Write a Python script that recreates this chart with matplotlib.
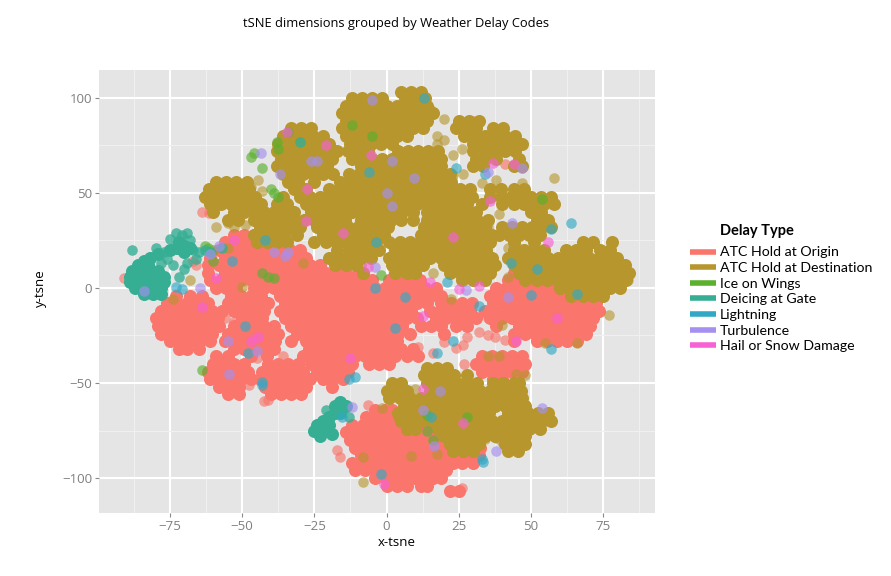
import matplotlib
matplotlib.use("Agg")
import matplotlib.pyplot as plt
from matplotlib.lines import Line2D

TITLE = "tSNE dimensions grouped by Weather Delay Codes"
LEGEND_TITLE = "Delay Type"
CATEGORIES = ["ATC Hold at Origin", "ATC Hold at Destination", "Ice on Wings", "Deicing at Gate",
              "Lightning", "Turbulence", "Hail or Snow Damage"]
COLORS = ["#FA756C", "#B6962D", "#5BB02F", "#35AE94", "#31A9C6", "#A590F0", "#F761D5"]
X_TICKS = [-75, -50, -25, 0, 25, 50, 75]
Y_TICKS = [-100, -50, 0, 50, 100]
X_MINOR = [-87.5, -62.5, -37.5, -12.5, 12.5, 37.5, 62.5, 87.5]
Y_MINOR = [-75, -25, 25, 75]

# rows: (y, [x values])
GOLD_ROWS = [
 (103,[5,8.5,12]),
 (100,[-12,-8.5,-5,-1.5,6.5,10,13.5]),
 (96,[-14,-10.5,-7,-3.5,0,3.5,7,10.5,14]),
 (92,[-15.5,-12,-8.5,-5,-1.5,2,5.5,9,12.5,16]),
 (88,[-14,-10.5,-7,-3.5,0,3.5,7,10.5,14,25,28.5,32]),
 (84,[-33,-29.5,-26,-15.5,-12,-8.5,-5,-1.5,2,5.5,9,12.5,24,27.5,31,37,40.5]),
 (80,[-36,-32.5,-29,-25.5,-22,-14,-10.5,-7,-3.5,0,3.5,7,27,30.5,34,37.5,41,44.5]),
 (76,[-37.5,-34,-30.5,-27,-23.5,-20,-12.5,-9,-5.5,-2,2,30,33.5,37,40.5,44,47]),
 (72,[-38,-34.5,-31,-27.5,-24,-20.5,-17,-13.5,-10,-6.5,4,7.5,11,14.5,18,30,34,37.5,41,44.5]),
 (68,[-36.5,-33,-29.5,-26,-22.5,-19,-12,-8.5,-5,-1.5,2,5.5,9,12.5,16,19,31,34,38,46]),
 (64,[-38,-34.5,-31,-27.5,-24,-20.5,-9,-5.5,-2,1.5,5,8.5,12,15.5,19,30,33.5,44,47]),
 (60,[-36,-32.5,-29,-25.5,-22,-18.5,-13,-9.5,-6,-2.5,1,4.5,8,11.5,15,18.5,22]),
 (56,[-59,-55.5,-52,-48.5,-34,-30.5,-25,-16,-12.5,-9,-5.5,-2,1.5,5,8.5,12,15.5,19,22.5]),
 (52,[-61.5,-58,-54.5,-51,-47.5,-32,-28,-20,-16.5,-13,-9.5,-6,-2.5,1,4.5,8,11.5,15,18.5,22,25.5,29,36,39.5,44,47.5]),
 (48,[-63,-59.5,-56,-52.5,-49,-45.5,-36,-30,-26.5,-23,-19.5,-16,-12.5,-9,-5.5,-2,1.5,5,8.5,12,15.5,19,22.5,26,29.5,36,39.5,43,46.5,50,53.5,57]),
 (44,[-61,-57.5,-54,-50.5,-47,-43.5,-38,-34.5,-28,-24.5,-21,-17.5,-14,-10.5,-7,-3.5,0,3.5,7,10.5,14,17.5,21,24.5,28,33,40,44,47.5,51,54.5,58]),
 (40,[-60,-53,-49.5,-46,-42.5,-39,-35.5,-32,-26,-22.5,-19,-15.5,-12,-8.5,-5,-1.5,2,5.5,9,14,17.5,21,24.5,28,31,50,53.5]),
 (36,[-55,-51.5,-46,-42.5,-39,-35.5,-32,-28.5,-25,-21.5,-18,-14.5,-9,-5.5,-2,1.5,5,9,14,17.5,21,24.5,28,31.5,35,52,56]),
 (32,[-44,-40.5,-37,-33.5,-30,-24,-20.5,-17,-13.5,-10,-6.5,-3,0.5,13,16.5,20,23.5,27,30.5,34,40,43.5,47,50.5,54,57]),
 (28,[-46,-42.5,-39,-35.5,-31,-22,-18.5,-15,-11.5,-8,-4.5,-1,12,15.5,19,22.5,26,29.5,33,36.5,39,42.5,46,49.5,53]),
 (24,[-45,-41.5,-38,-34.5,-25,-21,-17.5,-14,-10.5,-7,-3.5,1,4.5,8,11.5,15,18.5,22,25.5,29,32.5,36,44,51,68,71.5,78]),
 (20,[-17,-13,-9.5,-6,-2.5,3,6.5,10,13.5,17,20.5,24,27.5,31,34.5,44,47.5,51,54.5,62,65.5,69,74,77.5]),
 (16,[-20,-16,-12.5,-9,-5.5,1,4.5,8,11.5,15,19,22.5,26,29.5,33,36.5,42,45.5,49,52.5,56,59.5,63,66.5,70,73.5,77,80]),
 (12,[-18,-14,-10.5,2,5.5,9,12.5,20,23.5,27,30.5,34,37.5,44,47.5,51,54.5,58,61.5,65,68.5,72,75.5,79,82.5]),
 (8,[-8,3,7,10,22,25.5,29,32.5,36,46,49.5,53,56.5,60,63.5,67,70.5,74,77.5,81,84]),
 (4,[26,30,34,48,52,55.5,59,62.5,66,69.5,73,76.5,80,83]),
 (0,[60,63.5,67,70.5,74,77.5,81]),
 (-4,[64,68,71.5,75]),
 (-42,[14,17.5,21]),
 (-46,[13,16.5,20,23.5,28]),
 (-50,[2,5,14,17.5,21,24.5,28,31.5,37,40.5,44,46]),
 (-54,[0,3.5,7,15,18.5,22,25.5,29,32.5,36,39.5,43,46.5]),
 (-58,[1,4.5,8,12,15.5,19,22.5,26,29.5,33,36.5,40,43.5,47]),
 (-62,[6,9.5,13,16.5,20,23.5,27,30.5,34,37.5,41,44.5,48]),
 (-66,[4,7.5,11,14.5,18,21.5,25,28.5,32,35.5,42,45.5,49,52.5,56]),
 (-70,[5,8.5,12,15.5,19,22.5,26,29.5,33,36.5,40,43.5,47,50.5,54,57]),
 (-74,[7,10,18,21.5,25,28.5,32,35.5,39,42.5,46,49.5,53]),
 (-78,[20,23.5,27,30.5,34,37.5,41,44.5,48]),
 (-82,[22,25.5,29,32,41,44.5,48]),
 (-86,[23,26.5,30,42,45.5]),
]
RED_ROWS = [
 (28,[-53,-49.5,-46]),
 (24,[-56,-52.5,-49,-45.5,-42]),
 (20,[-58,-54.5,-51,-47.5,-44,-40.5,-37,-33.5,-30]),
 (16,[-61,-56,-52.5,-49,-45.5,-42,-38.5,-35,-31.5,-28]),
 (12,[-62,-58,-54.5,-51,-47.5,-44,-40.5,-37,-33.5,-30,-26.5,-23]),
 (8,[-62,-56,-52.5,-49,-45.5,-42,-38.5,-35,-31.5,-28,-24.5,-21,-17.5,-14,-10,44,47,50]),
 (4,[-61,-57.5,-54,-50.5,-47,-43.5,-40,-36.5,-33,-29.5,-26,-22.5,-19,-15.5,-12,-8.5,-5,1,4.5,8,11.5,42,45.5,49,52.5,56,59.5,63]),
 (0,[-59,-55.5,-52,-46,-42.5,-39,-35.5,-32,-28.5,-25,-21.5,-18,-14.5,-11,-7.5,-4,-0.5,3,6.5,10,13.5,17,38,41.5,45,48.5,52,55.5,59,62.5,66,69.5]),
 (-4,[-73,-68,-64,-54,-50.5,-47,-43.5,-37,-33.5,-30,-26.5,-23,-19.5,-16,-12.5,-9,-5.5,-2,1.5,5,8.5,12,15.5,19,36,39.5,43,46.5,50,53.5,57,60.5,64,67.5,71]),
 (-8,[-76,-72.5,-69,-65.5,-62,-55,-51.5,-48,-44.5,-41,-35,-31.5,-28,-24.5,-21,-17.5,-14,-10.5,-7,-3.5,0,3.5,7,10.5,14,19,22.5,26,29.5,37,41,44.5,48,51.5,55,58.5,62,65.5,69,72.5]),
 (-12,[-78,-74.5,-71,-67.5,-64,-60.5,-57,-53,-49.5,-46,-42.5,-37,-33.5,-30,-26.5,-23,-19.5,-16,-12.5,-9,-5.5,-2,1.5,5,8.5,15,18.5,22,25.5,29,34,38,42,45.5,49,52.5,56,59.5,63,66.5,70,73.5]),
 (-16,[-80,-76,-72.5,-69,-65.5,-62,-58.5,-50,-46.5,-43,-35,-31.5,-28,-24.5,-21,-17.5,-14,-10.5,-7,-3.5,0,3.5,7,10.5,17,20.5,24,27.5,31,36,40,43.5,47,50.5,54,57.5,61,64.5,68,71.5]),
 (-20,[-79,-75.5,-72,-68.5,-65,-61.5,-58,-53,-49.5,-46,-42.5,-39,-33,-29.5,-26,-22.5,-19,-15.5,-12,-8.5,-5,-1.5,2,5.5,12,15.5,19,24,28,38,46,49.5,53,56.5,60,63.5,67,70.5]),
 (-24,[-78,-74.5,-71,-67.5,-64,-60.5,-55,-51.5,-48,-44.5,-41,-37.5,-31,-27.5,-24,-20.5,-17,-13.5,-10,-6.5,-3,0.5,4,8,20,44,48,51.5,55,58.5,62,65.5,69]),
 (-28,[-75,-71.5,-68,-64.5,-61,-56,-52.5,-49,-45.5,-42,-38.5,-33,-28,-24.5,-21,-17.5,-14,-10.5,-7,-3.5,0,3.5,44,52,55.5,59,62.5,66]),
 (-32,[-72,-69,-65,-53,-49.5,-46,-42.5,-39,-27,-23.5,-20,-16.5,-13,-9.5,-6,-2.5,1,5,9]),
 (-36,[-59,-55,-47,-41.5,-29,-25.5,-22,-18.5,-15,-11,-7.5,-4,-0.5,3,7,11,33,36.5,40,43.5,47]),
 (-40,[-60,-56.5,-53,-49.5,-41,-37.5,-34,-30.5,-26,-22.5,-19,-15.5,-12,-6,-2.5,1,31,34.5,38,41.5,45,48]),
 (-44,[-62,-58.5,-55,-51.5,-48,-43,-39.5,-36,-32.5,-29,-24,-20.5,-17,-13.5,33,36.5,40,43.5,47]),
 (-48,[-61,-57.5,-54,-50.5,-47,-44,-40.5,-37,-33.5,-30,-26.5,-22,-18.5,-15,37,40]),
 (-52,[-58,-54.5,-51,-42,-38.5,-35,-31.5,-28,-19]),
 (-56,[-55,-51,-40,-36.5,-33,-29.5]),
 (-64,[-4,-0.5,2]),
 (-68,[-7,-3.5,0,3.5,7]),
 (-72,[-12,-8,-4.5,-1,2.5,6,9.5,13]),
 (-76,[-14,-10.5,-7,-3.5,0,3.5,7,10.5,14,17]),
 (-80,[-12.5,-9,-5.5,-2,1.5,5,8.5,12,15.5,19]),
 (-84,[-11,-7.5,-4,-0.5,3,6.5,10,13.5,17,20.5,24,26,29.5,32.5]),
 (-88,[-9,-5.5,-2,1.5,5,8.5,12,15.5,19,22.5,25,28.5,32]),
 (-92,[-12,-8.5,-5,-1.5,2,5.5,9,12.5,16,19.5,23,26,30]),
 (-96,[-11,-7.5,-4,-0.5,3,6.5,10,13.5,17,20.5]),
 (-100,[-4,-0.5,3,6.5,10,13.5,16,19]),
 (-104,[0,3.5,7,12,14]),
 (-107,[22,25]),
]
RED_LOOSE = [(-64,40),(-61.5,39.5),(-2.5,60),(30,88),(-53,-18),(-56,-16),(-78,-23),(-47.5,-51),(-45,-37),
 (-42.5,-59.5),(-41,-59),(-6.5,-61.5),(-17,-85),(-16,-89),(-41.5,-36),(-36,-36),(-91,5),(-67,14),(-66,12),
 (32,-23),(35,-25),(37.5,-26),(41,-27.5),(26.5,-30),(28,-26),(16,-34),(24,-31.5),(20,-28.5),(11,-31),(6.5,-33.5),
 (27,-40),(21,-44),(35,-16),(37,-7.5),(26,-105),(47,63),(41,65)]
GOLD_LOOSE = [(-59,32),(-43,51),(-47,53),(-44.5,57),(-55,34),(-53,32),(-49,33),(-68,4),(20,89),(15,94),(58,58),
 (47,55),(38,57),(33,55),(26.5,60),(23,59.5),(23,70),(17.5,80),(17.5,76),(20,78),(26,73),(39,39),(35,32),(30,25),
 (42,21),(45.5,21),(59.5,15),(16,8),(42,6),(75,18),(83.5,4),(32,-76),(34,-79.5),(38,-79),(40,-81),(50,-74),(31,-79),
 (4,-68),(10,-53),(77,-14),(66,-29),(55,-29),(40,-19.5),(8.5,-88.5),(17.5,-87.5),(-8,-102),(-8,-89),(-1.5,-63),
 (-74,-6),(-50,0.5),(-55,21),(-29,13),(-9,12),(22.5,-6),(35,-36),(39,-36),(48,-46),(45,-45)]
ICE = [(-47,69),(-46,71),(-43,63),(-40,52),(-39,50),(-37.5,48),(-38,77),(-37.5,73),(-34,82),(-63,22),(-62,21),(-60,20),
 (-43,8),(-41,6),(-39,5),(-5,80),(-12,86),(-2,7),(54,47),(28,-68),(14,-67),(14,-75),(16,-80),(-64,-43),(-60,14)]
DEICING_CORE = [(-86,12),(-82.5,12),(-88,9),(-85,9),(-81.5,9),(-79,9),(-89,6),(-86,6),(-83,6),(-80,6),(-77,6),(-89,3),(-86,3),
 (-83,3),(-80,3),(-77,3),(-87,0),(-84,0),(-81,0),(-78,0),(-84,-3),(-81,-3),(-78,-3),(-24,-72),(-22,-70),(-20,-68),(-22,-74),
 (-25,-75),(-20,-72),(-18,-66),(-18,-62),(-16,-60),(-14,-62),(-16,-66),(-23,-78),(-19,-77),(-75,20),(-72.5,21),(-70,22),
 (-68,21),(-72,24),(-70,19),(-82,16),(-84,14),(-79,18)]
DEICING_LOOSE = [(-77,19),(-67,20),(-75,26),(-73,29),(-71,28),(-69,29),(-68,25),(-78,13),(-74,12),(-70,10),(-80,21),
 (-88,20),(-65,19),(-63,20),(-61,19),(-72,6),(-21,-64),(-13,-68),(-30,77),(-57,21),(-76,15),(-66,15),(-69,13)]
LIGHTNING = [(-42,25),(-73,0.5),(-71,-0.5),(-53.5,14),(-4,0),(-3.5,24),(-6,61),(13,100),(24,63),(34,60),(43,13),(52,10),
 (21,3),(64,34),(57,31),(66,-3),(50,-3.5),(-48,-34),(-43,-49.5),(-43,-51),(-11,-47),(-13,-48),(-15.5,-68),(-2,-98),
 (-49,-20),(17.5,-34),(57,-32),(33,-90),(33.5,-91.5),(15.5,-68),(32,-9.5),(6.5,-5),(23,-28),(3,-21)]
TURBULENCE = [(-37,60),(-43.5,71),(-26,67),(-24,67),(-5,99),(0,50),(-58,22),(-61,18),(-34,19),(-35,17),(-39,19),(-84,-1.5),
 (-4,11),(-64.5,0),(2,67),(9.5,58),(2,43),(47,63),(43.5,34),(27.5,-1),(35,61),(-55,-28),(-54.5,-45),(-45,-33),(-12,-62.5),
 (54,-63),(18.5,-54),(12.5,-64),(16.5,-83),(38,-86),(42,-5)]
HAIL = [(-34.5,82),(-21,75),(-5.5,70),(-27.5,52),(-28,35),(-15,29),(-53,25),(-59,5),(-6.5,11),(23,27),(37,66),(44,65),
 (36,46),(56,24),(15,3),(32,1),(25,-0.5),(-64,-10),(-47,-28),(-44.5,-26),(-12.5,-37),(-1,-103),(12.5,-15),(59,-16),
 (45,-28),(12.5,-53),(26.5,-71)]

W, H = 891, 576
fig = plt.figure(figsize=(W / 100, H / 100), dpi=100, facecolor="white")
ax = fig.add_axes([99 / W, 1 - 513 / H, 556 / W, 443 / H], facecolor="#E5E5E5")
ax.set_xlim(-99.6, 93)
ax.set_ylim(-118.4, 114.7)
for s in ax.spines.values():
    s.set_visible(False)
ax.set_xticks(X_TICKS)
ax.set_yticks(Y_TICKS)
ax.set_xticks(X_MINOR, minor=True)
ax.set_yticks(Y_MINOR, minor=True)
ax.set_xticklabels([str(v).replace("-", "\u2212") for v in X_TICKS])
ax.set_yticklabels([str(v).replace("-", "\u2212") for v in Y_TICKS])
ax.grid(True, which="major", color="white", lw=1.5)
ax.grid(True, which="minor", color="#F0F0F0", lw=0.8)
ax.set_axisbelow(True)
FONT = "Open Sans"
ax.tick_params(which="major", length=3, width=0.8, color="#8A8A8A", labelcolor="#7F7F7F", labelsize=9.5, pad=2)
ax.tick_params(which="minor", length=0)
for t in ax.get_xticklabels() + ax.get_yticklabels():
    t.set_family(FONT)

S = 58       # a single point
S_MASS = 88  # dense clusters, where single points merge into one shape

def rows(r):
    xs, ys = [], []
    for y, vals in r:
        xs += vals
        ys += [y] * len(vals)
    return xs, ys
def pairs(p):
    return [a for a, _ in p], [b for _, b in p]

x, y = rows(RED_ROWS)
ax.scatter(x, y, s=S_MASS, c=COLORS[0], alpha=1.0, linewidths=0, zorder=2)
x, y = pairs(RED_LOOSE)
ax.scatter(x, y, s=S, c=COLORS[0], alpha=0.65, linewidths=0, zorder=2.1)
x, y = rows(GOLD_ROWS)
ax.scatter(x, y, s=S_MASS, c=COLORS[1], alpha=1.0, linewidths=0, zorder=3)
x, y = pairs(GOLD_LOOSE)
ax.scatter(x, y, s=S, c=COLORS[1], alpha=0.6, linewidths=0, zorder=3.1)
x, y = pairs(DEICING_CORE)
ax.scatter(x, y, s=S_MASS, c=COLORS[3], alpha=1.0, linewidths=0, zorder=3.5)
for pts, col, z in [(ICE, COLORS[2], 4), (DEICING_LOOSE, COLORS[3], 4.1), (LIGHTNING, COLORS[4], 4.2),
                    (TURBULENCE, COLORS[5], 4.3), (HAIL, COLORS[6], 4.4)]:
    x, y = pairs(pts)
    ax.scatter(x, y, s=S, c=col, alpha=0.8 if pts is DEICING_LOOSE else 0.65, linewidths=0, zorder=z)

fig.text(396 / W, 1 - 23 / H, TITLE, ha="center", va="center", family=FONT, fontsize=9.3, color="black")
fig.text(397 / W, 1 - 542 / H, "x-tsne", ha="center", va="center", family=FONT, fontsize=9.5, color="black")
fig.text(40 / W, 1 - 288 / H, "y-tsne", ha="center", va="center", rotation=90, family=FONT, fontsize=9.5, color="black")

fig.text(720 / W, 1 - 231 / H, LEGEND_TITLE, ha="left", va="center", family="Lato", fontsize=10.5,
         fontweight="bold", color="black")
handles = [Line2D([0], [0], color=c, lw=4, solid_capstyle="butt") for c in COLORS]
leg = ax.legend(handles, CATEGORIES, loc="upper left", bbox_to_anchor=(690 / W, 1 - 246.5 / H),
                bbox_transform=fig.transFigure, frameon=False,
                prop={"family": "Lato", "size": 10.2}, handlelength=1.8, handletextpad=0.3,
                labelspacing=0.255, borderpad=0, borderaxespad=0)

fig.savefig("out.png", dpi=100, facecolor="white")
